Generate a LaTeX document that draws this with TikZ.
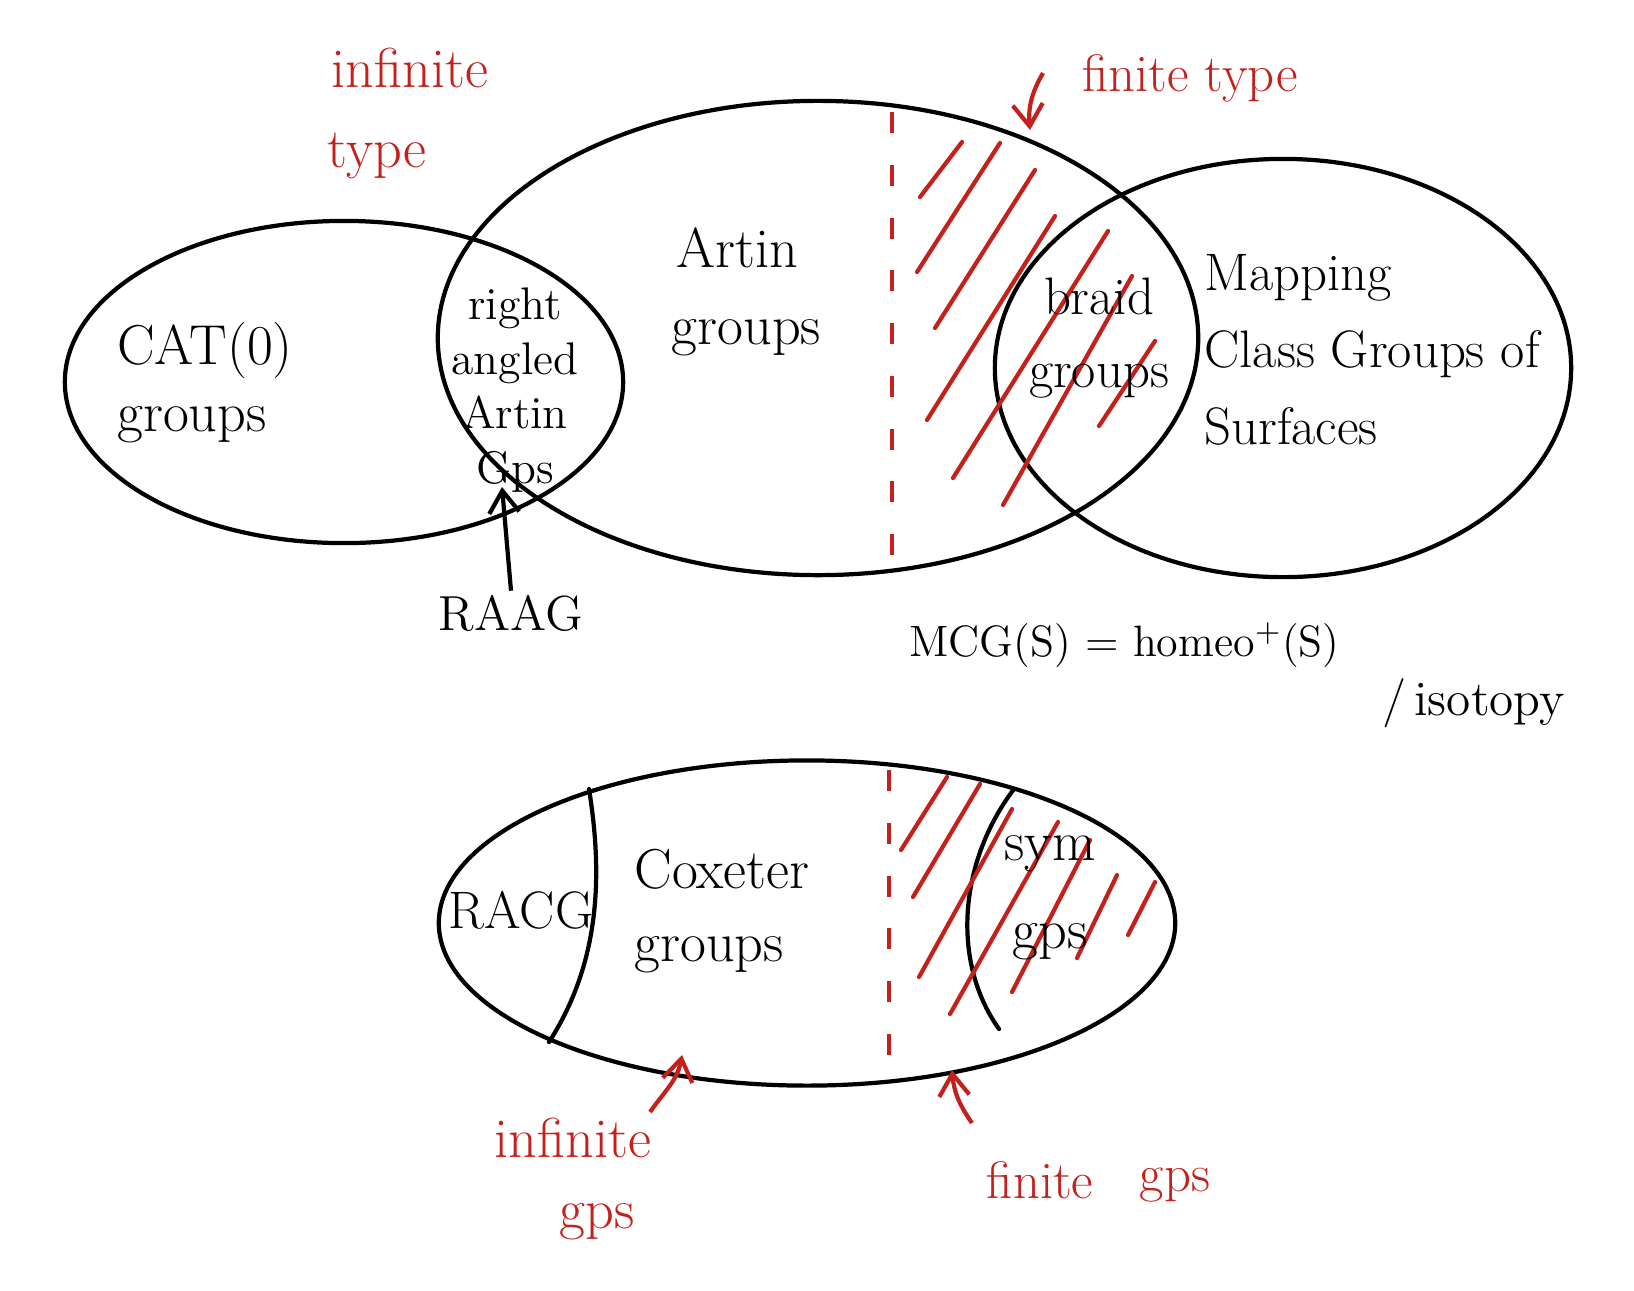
\documentclass[tikz,border=0pt]{standalone}
\usepackage{tikz}
\usetikzlibrary{arrows.meta,shapes.geometric}
\definecolor{inkred}{RGB}{196,32,28}

\begin{document}
\begin{tikzpicture}[
  x=0.01cm,y=-0.01cm,
  blob/.style={draw,ellipse,line width=1.2pt,inner sep=0pt},
  ink/.style={line width=1.2pt,line cap=round},
  hatch/.style={line width=1.2pt,inkred,line cap=round},
  divide/.style={line width=1.3pt,inkred,dash pattern=on 6pt off 9pt},
  pen/.style={font=\fontsize{16}{18}\selectfont,inner sep=1pt},
  redpen/.style={pen,text=inkred},
  pointer/.style={line width=1.2pt,-{Straight Barb[length=2.2mm,width=3mm]}},
  redpointer/.style={pointer,inkred}
]
\useasboundingbox (0,0) rectangle (1634,1290);

% top family
\node[blob,minimum width=5.58cm,minimum height=3.22cm] (cat) at (344,382) {};
\node[blob,minimum width=7.60cm,minimum height=4.74cm] (artin) at (818,338) {};
\node[blob,minimum width=5.76cm,minimum height=4.18cm] (mcg) at (1283,368) {};

\draw[divide] (892,112) -- (892,570);
\foreach \a/\b/\c/\d in {920/197/962/142, 917/272/1000/143, 935/328/1035/170,
    927/420/1055/216, 953/478/1108/231, 1003/505/1132/276, 1099/426/1155/341}
  \draw[hatch] (\a,\b) -- (\c,\d);

\node[redpen] (inf1) at (410,68) {infinite};
\node[redpen] (inf2) at (377,156) {type};
\node[redpen,font=\fontsize{15}{17}\selectfont] (fin1) at (1190,78) {finite type};
\coordinate (finFrom) at (1043,73);
\coordinate (finTip) at (1030,130);
\draw[redpointer] (finFrom) to[out=240,in=95] (finTip);

\node[pen,font=\fontsize{16}{19}\selectfont,align=left] (catlbl) at (205,383) {CAT(0)\\groups};
\node[pen,font=\fontsize{13}{15.5}\selectfont,align=center] (raag) at (515,390)
  {right\\angled\\Artin\\Gps};
\node[pen,font=\fontsize{16}{22}\selectfont,align=center] (artlbl) at (737,292) {Artin\\\,\,groups};
\node[pen,font=\fontsize{15}{21}\selectfont,align=center] (braid) at (1099,338) {braid\\groups};
\node[pen,font=\fontsize{15}{22}\selectfont,align=left] (mcglbl) at (1372,350)
  {Mapping\\Class Groups of\\Surfaces};

\node[pen,font=\fontsize{14}{16}\selectfont] (raagname) at (511,613) {RAAG};
\coordinate (raagTip) at (502,487);
\draw[pointer] (raagname.north) to[out=95,in=-85] (raagTip);

\node[pen,font=\fontsize{12.5}{15}\selectfont,anchor=west] (mcgdef) at (905,645)
  {MCG(S) = homeo$^{+}$(S)};
\node[pen,font=\fontsize{14}{16}\selectfont,anchor=west] (mcgquot) at (1378,703)
  {/\,isotopy};

% bottom family
\node[blob,minimum width=7.36cm,minimum height=3.25cm] (cox) at (807,923) {};
\draw[ink] (589,789) .. controls (602,870) and (602,960) .. (549,1042);
\draw[ink] (1014,789) .. controls (960,860) and (950,960) .. (999,1029);

\draw[divide] (889,770) -- (889,1055);
\foreach \a/\b/\c/\d in {901/850/947/777, 913/897/980/784, 919/977/1012/809,
    950/1014/1058/822, 1012/992/1090/840, 1077/958/1117/875, 1128/935/1155/882}
  \draw[hatch] (\a,\b) -- (\c,\d);

\node[pen,font=\fontsize{15}{17}\selectfont] (racg) at (521,910) {RACG};
\node[pen,font=\fontsize{16}{21}\selectfont,align=left] (coxlbl) at (722,911) {Coxeter\\groups};
\node[pen,font=\fontsize{16}{25}\selectfont,align=center] (sym) at (1050,898) {sym\\gps};

\node[redpen] (inf3) at (573,1138) {infinite};
\node[redpen] (inf4) at (597,1222) {gps};
\coordinate (infFrom) at (650,1112);
\coordinate (infTip) at (682,1055);
\draw[redpointer] (infFrom) to[out=55,in=-100] (infTip);

\node[redpen,font=\fontsize{15}{17}\selectfont] (fin2) at (1040,1180) {finite};
\node[redpen,font=\fontsize{15}{17}\selectfont] (fin3) at (1175,1185) {gps};
\coordinate (finFrom2) at (972,1123);
\coordinate (finTip2) at (952,1070);
\draw[redpointer] (finFrom2) to[out=125,in=-85] (finTip2);
\end{tikzpicture}
\end{document}
